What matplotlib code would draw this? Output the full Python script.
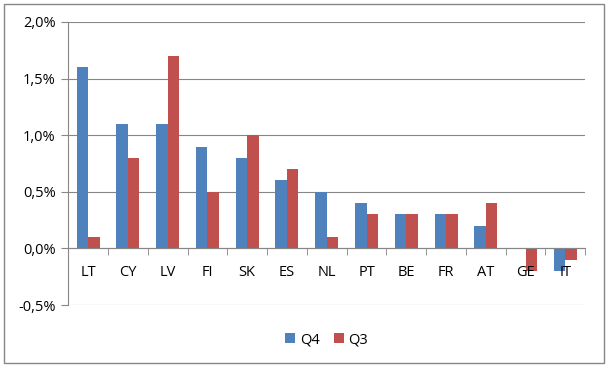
import numpy as np
import matplotlib.pyplot as plt
from matplotlib.patches import Rectangle
from matplotlib.ticker import FuncFormatter, FixedLocator

plt.rcParams['font.family'] = ['Open Sans', 'DejaVu Sans']

countries = ['LT', 'CY', 'LV', 'FI', 'SK', 'ES', 'NL', 'PT', 'BE', 'FR', 'AT', 'GE', 'IT']
q4 = [1.6, 1.1, 1.1, 0.9, 0.8, 0.6, 0.5, 0.4, 0.3, 0.3, 0.2, 0.0, -0.2]
q3 = [0.1, 0.8, 1.7, 0.5, 1.0, 0.7, 0.1, 0.3, 0.3, 0.3, 0.4, -0.2, -0.1]

blue = '#4F81BD'
red = '#C0504D'
grid_col = '#868686'

fig = plt.figure(figsize=(6.09, 3.69), dpi=100)
ax = fig.add_axes([0.112, 0.1734, 0.849, 0.767])

x = np.arange(len(countries))
w = 0.29
ax.bar(x - w / 2, q4, w, color=blue, label='Q4', zorder=3)
ax.bar(x + w / 2, q3, w, color=red, label='Q3', zorder=3)

ax.set_xlim(-0.5, len(countries) - 0.5)
ax.set_ylim(-0.5, 2.0)
ax.set_yticks([-0.5, 0.0, 0.5, 1.0, 1.5, 2.0])
ax.yaxis.set_major_formatter(FuncFormatter(lambda v, p: ('%.1f%%' % v).replace('.', ',')))
ax.grid(axis='y', color=grid_col, linewidth=0.8, zorder=0)

ax.set_xticks(x)
ax.set_xticklabels(countries)
ax.xaxis.set_minor_locator(FixedLocator(np.arange(-0.5, len(countries), 1.0)))
ax.tick_params(axis='x', which='major', length=0, pad=12, labelsize=10.5, colors='black')
ax.tick_params(axis='x', which='minor', length=5, direction='out', color=grid_col)
ax.tick_params(axis='y', length=5, color=grid_col, labelsize=10.5, pad=4)
# category labels sit on top of the negative bars, as in the original
ax.xaxis.set_zorder(4)

ax.spines['bottom'].set_position(('data', 0))
ax.spines['bottom'].set_color(grid_col)
ax.spines['bottom'].set_zorder(4)
ax.spines['left'].set_color(grid_col)
ax.spines['top'].set_visible(False)
ax.spines['right'].set_visible(False)

ax.legend(loc='upper center', bbox_to_anchor=(0.5, -0.05), ncol=2, frameon=False,
          handlelength=0.7, handleheight=0.7, handletextpad=0.3, columnspacing=1.0,
          fontsize=10.5)

fig.patches.append(Rectangle((0.007, 0.016), 0.985, 0.973, transform=fig.transFigure,
                             fill=False, edgecolor='#868686', linewidth=1))

fig.savefig('out.png', dpi=100)
